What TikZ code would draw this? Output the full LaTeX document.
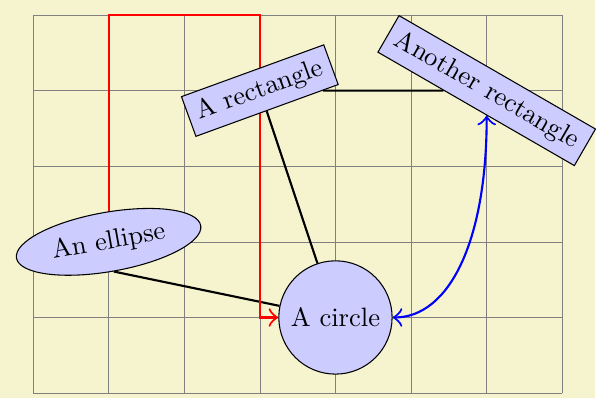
\documentclass[tikz,border=0pt]{standalone}
\usepackage{amsmath}
\usepackage{tikz}
\usetikzlibrary{arrows.meta, shapes.geometric}

\pgfdeclarelayer{bg}
\pgfdeclarelayer{edges}
\pgfsetlayers{bg,edges,main}

\tikzset{
	shapenode/.style={draw, fill=blue!20},
	link/.style={thick, >={Classical TikZ Rightarrow[scale=1.4]}}
}

\begin{document}
\begin{tikzpicture}
		% Background and grid
		\begin{pgfonlayer}{bg}
			\fill[yellow!80!black!20] (-0.436,-0.066) rectangle (7.437,5.198);
			\draw[help lines] (0,0) grid (7,5);
		\end{pgfonlayer}
		
		% Shapes
		\node[shapenode, circle] (circ) at (4,1) {A circle};
		\node[shapenode, rectangle, rotate=20] (rect) at (3,4) {A rectangle};
		\node[shapenode, ellipse, rotate=10] (elli) at (1,2) {An ellipse};
		\node[shapenode, rectangle, rotate=-30] (rectb) at (6,4) {Another rectangle};
		\coordinate (top) at (3,5);
		
		% Links
		\begin{pgfonlayer}{edges}
			\draw[link] (elli.south) -- (circ);
			\draw[link] (rect) -- (circ);
			\draw[link] (rect) -- (rectb);
			\draw[link, red, ->] (elli) |- (top) |- (circ);
			\draw[link, blue, <->] (circ) .. controls +(right:1.5) and +(down:2) .. (rectb);
		\end{pgfonlayer}
	\end{tikzpicture}
\end{document}
